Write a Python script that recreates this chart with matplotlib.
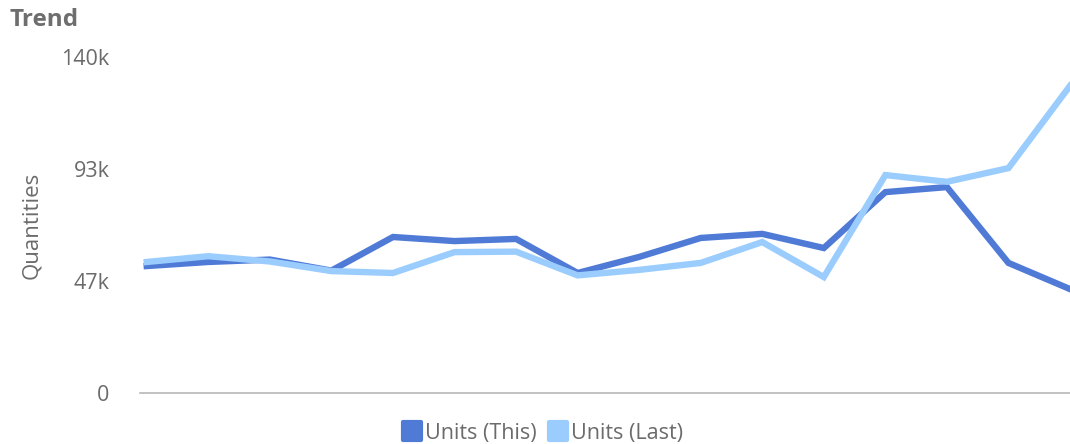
import matplotlib.pyplot as plt
from matplotlib.lines import Line2D
from matplotlib.markers import MarkerStyle
from matplotlib.ticker import FixedLocator

plt.rcParams['font.family'] = ['Open Sans', 'DejaVu Sans']

# Values (thousands of units)
periods = list(range(16))
units_this = [52.9, 54.6, 55.6, 51.0, 65.0, 63.3, 64.2, 50.0,
              56.7, 64.6, 66.3, 60.4, 83.7, 85.8, 54.2, 43.3]
units_last = [54.6, 57.0, 54.8, 50.8, 50.0, 58.7, 58.9, 49.0,
              51.3, 54.2, 62.9, 48.3, 90.8, 88.0, 93.7, 128.0]
ytick_vals = [0, 140 / 3, 280 / 3, 140]
ytick_labels = ['0', '47k', '93k', '140k']
series_names = ['Units (This)', 'Units (Last)']

dark = '#4f7bd7'
light = '#9acdfd'
grey = '#6b6b6b'

fig = plt.figure(figsize=(10.70, 4.44), dpi=100)
ax = fig.add_axes([140 / 1070, 51 / 444, 930 / 1070, 336 / 444])

ax.plot(periods, units_this, color=dark, lw=4.6, solid_joinstyle='miter', zorder=2)
ax.plot(periods, units_last, color=light, lw=4.6, solid_joinstyle='miter', zorder=3)

ax.set_ylim(0, 140)
ax.set_xlim(-0.11, 15)
ax.yaxis.set_major_locator(FixedLocator(ytick_vals))
ax.set_yticklabels(ytick_labels)
ax.set_xticks([])
ax.tick_params(axis='y', length=0, pad=22, labelsize=15.5, labelcolor=grey)
for s in ['top', 'right', 'left']:
    ax.spines[s].set_visible(False)
ax.spines['bottom'].set_color('#b8b8b8')
ax.spines['bottom'].set_linewidth(1.2)
for line in ax.lines:
    line.set_clip_on(False)

ax.set_ylabel('Quantities', color=grey, fontsize=16, labelpad=14)
fig.text(10 / 1070, 1 - 20 / 444, 'Trend', fontsize=17.5, fontweight='bold',
         color='#6e6e6e', va='center', ha='left')

handles = [Line2D([], [], linestyle='none', color=c, markersize=13,
                  markeredgewidth=3,
                  marker=MarkerStyle('s', joinstyle='round'))
           for c in (dark, light)]
leg = fig.legend(handles, series_names, loc='center',
                 bbox_to_anchor=(543 / 1070, 1 - 433 / 444),
                 ncol=2, frameon=False, fontsize=15.5, handlelength=0.85,
                 handletextpad=0.15, columnspacing=0.6)
for t in leg.get_texts():
    t.set_color(grey)

fig.savefig('out.png', dpi=100)
